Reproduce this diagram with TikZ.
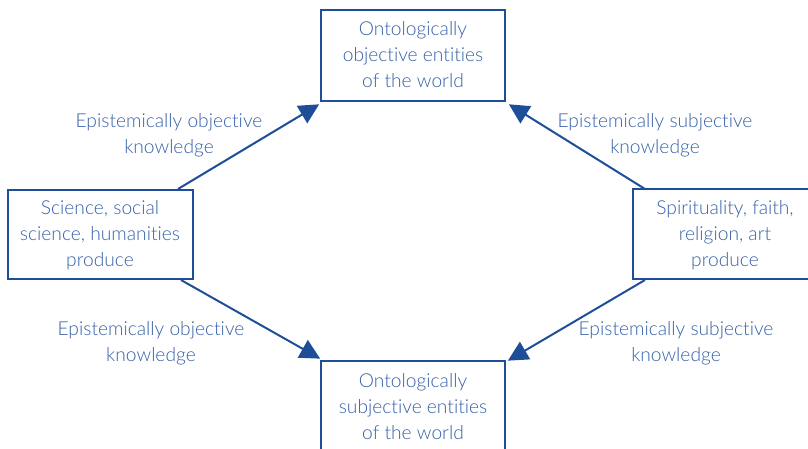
\documentclass[tikz,border=0pt]{standalone}
\usepackage{fontspec}
\setmainfont{Lato Light}[RawFeature={-liga}]
\usetikzlibrary{arrows.meta}
\definecolor{boxblue}{HTML}{1F4E99}
\definecolor{txtblue}{HTML}{3560A8}
\begin{document}
\begin{tikzpicture}[x=0.75pt,y=-0.75pt,
  box/.style={draw=boxblue,line width=1.6pt,rectangle,inner sep=0pt},
  txt/.style={text=txtblue,align=center,font=\fontsize{14.4}{19.5}\selectfont,inner sep=0pt},
  conn/.style={draw=boxblue,line width=1.5pt,-{Triangle[length=15pt,width=15pt]},shorten >=-1pt}]
\useasboundingbox (0,0) rectangle (808,449);
\clip (0,0) rectangle (808,449);
% boxes
\node[box,minimum width=184*0.75pt,minimum height=91*0.75pt] (top) at (413,55.5) {};
\node[box,minimum width=185*0.75pt,minimum height=89*0.75pt] (left) at (100.5,234.5) {};
\node[box,minimum width=184*0.75pt,minimum height=90*0.75pt] (right) at (725,234) {};
\node[box,minimum width=184*0.75pt,minimum height=95*0.75pt] (bottom) at (413,408.5) {};
% box texts
\node[txt] (toptxt) at (413,55) {Ontologically\\objective entities\\of the world};
\node[txt] (lefttxt) at (100,235) {Science, social\\science, humanities\\produce};
\node[txt] (righttxt) at (725,235) {Spirituality, faith,\\religion, art\\produce};
\node[txt] (bottomtxt) at (413,407) {Ontologically\\subjective entities\\of the world};
% labels
\node[txt] (l1) at (169,135) {Epistemically objective\\knowledge};
\node[txt] (l2) at (655,135) {Epistemically subjective\\knowledge};
\node[txt] (l3) at (151,343) {Epistemically objective\\knowledge};
\node[txt] (l4) at (676,343) {Epistemically subjective\\knowledge};
% connector endpoints
\coordinate (a1) at (178,189);
\coordinate (b1) at (318,105);
\coordinate (a2) at (645,189);
\coordinate (b2) at (510,105);
\coordinate (a3) at (181,280);
\coordinate (b3) at (319,358);
\coordinate (a4) at (645,280);
\coordinate (b4) at (509,360);
\draw[conn] (a1) -- (b1);
\draw[conn] (a2) -- (b2);
\draw[conn] (a3) -- (b3);
\draw[conn] (a4) -- (b4);
\end{tikzpicture}
\end{document}
